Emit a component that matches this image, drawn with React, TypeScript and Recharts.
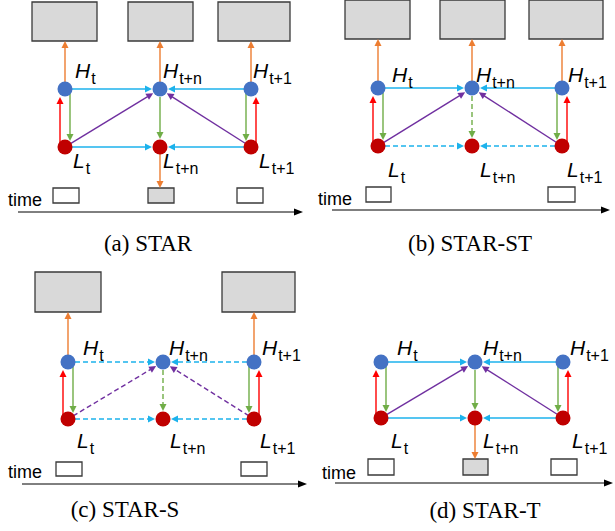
import { ScatterChart, Scatter, XAxis, YAxis, ReferenceLine, ReferenceArea } from "recharts";

const W = 615;
const H = 531;

// four panels: (a) STAR, (b) STAR-ST, (c) STAR-S, (d) STAR-T
const captions = ["(a) STAR", "(b) STAR-ST", "(c) STAR-S", "(d) STAR-T"];
const captionPos = [[148, 251], [470, 251], [125, 517], [485, 518]];
const subs = ["t", "t+n", "t+1"];

// node columns t, t+n, t+1 and the H / L rows
const nodeX = [[65, 160, 251], [378, 472, 562], [68, 163, 254], [381, 475, 563]];
const hY = [89, 88, 362, 362];
const lY = [147, 146, 419, 418];

// label anchors
const hLabelX = [[75, 163, 253], [392, 476, 568], [83, 169, 262], [397, 483, 570]];
const hLabelY = [78, 82, 355, 355];
const lLabelX = [[73, 163, 259], [388, 480, 567], [77, 170, 260], [391, 483, 572]];
const lLabelY = [168, 177, 448, 448];

// output boxes [x1, x2, y1, y2] above the H nodes, input boxes below
const topBoxes = [
  [[32, 97, 2, 41], [128, 193, 2, 41], [218, 290, 2, 41]],
  [[345, 410, 0, 39], [440, 505, 0, 39], [529, 603, 0, 39]],
  [[35, 101, 272, 312], null, [222, 295, 272, 312]],
  [null, null, null],
];
const bottomBoxes = [
  [[53, 79, 188, 203], [148, 174, 188, 203], [237, 263, 188, 203]],
  [[366, 391, 187, 202], null, [548, 575, 187, 202]],
  [[56, 82, 462, 476], null, [241, 267, 462, 476]],
  [[368, 394, 459, 475], [463, 488, 459, 475], [551, 577, 459, 475]],
];

// which edge groups are dashed in each panel
const dashedGroups = [[], ["LL", "mid"], ["HH", "LL", "diag", "mid"], []];

// "time" word and time axis
const timeLabel = [[8, 206], [318, 205], [8, 478], [322, 479]];
const timeAxis = [[18, 303, 212], [332, 610, 210], [22, 307, 484], [335, 613, 483]];

const C = {
  blue: "#4472C4",
  darkRed: "#C00000",
  cyan: "#1CB2EC",
  green: "#70AD47",
  red: "#FF0000",
  orange: "#ED7D31",
  purple: "#7030A0",
  box: "#D9D9D9",
  boxLine: "#3A3A3A",
};

type Pt = [number, number];
type Seg = { a: Pt; b: Pt; color: string; dashed: boolean; head: number; half: number; w: number };

const trim = (a: Pt, b: Pt, r0: number, r1: number): [Pt, Pt] => {
  const dx = b[0] - a[0];
  const dy = b[1] - a[1];
  const len = Math.hypot(dx, dy);
  const ux = dx / len;
  const uy = dy / len;
  return [
    [a[0] + ux * r0, a[1] + uy * r0],
    [b[0] - ux * r1, b[1] - uy * r1],
  ];
};

const segments: Seg[] = [];
captions.forEach((_, p) => {
  const xs = nodeX[p];
  const yh = hY[p];
  const yl = lY[p];
  const dash = (g: string) => dashedGroups[p].includes(g);
  const add = (ab: [Pt, Pt], color: string, dashed = false) =>
    segments.push({ a: ab[0], b: ab[1], color, dashed, head: 7, half: 3.5, w: 1.4 });

  // side pairs: red up, green down
  add([[xs[0] - 5, yl], [xs[0] - 5, yh + 8]], C.red);
  add([[xs[2] + 5, yl], [xs[2] + 5, yh + 8]], C.red);
  add([[xs[0] + 5, yh], [xs[0] + 5, yl - 6]], C.green);
  add([[xs[2] - 5, yh], [xs[2] - 5, yl - 6]], C.green);
  // middle H -> L
  add(trim([xs[1], yh], [xs[1], yl], 8, 8), C.green, dash("mid"));
  // horizontal links into t+n
  add(trim([xs[0], yh], [xs[1], yh], 7, 8), C.cyan, dash("HH"));
  add(trim([xs[2], yh], [xs[1], yh], 7, 8), C.cyan, dash("HH"));
  add(trim([xs[0], yl], [xs[1], yl], 7, 8), C.cyan, dash("LL"));
  add(trim([xs[2], yl], [xs[1], yl], 7, 8), C.cyan, dash("LL"));
  // diagonals L -> H(t+n)
  add(trim([xs[0], yl], [xs[1], yh], 6, 8), C.purple, dash("diag"));
  add(trim([xs[2], yl], [xs[1], yh], 6, 8), C.purple, dash("diag"));
  // outputs
  topBoxes[p].forEach((bx, i) => {
    if (bx) add([[xs[i], yh - 7], [xs[i], bx[3]]], C.orange);
  });
  const mid = bottomBoxes[p][1];
  if (mid) add([[xs[1], yl + 7], [xs[1], mid[2]]], C.orange);
  // time axis
  const t = timeAxis[p];
  segments.push({ a: [t[0], t[2]], b: [t[1], t[2]], color: "#000", dashed: false, head: 9, half: 3.5, w: 1 });
});

const hNodes = captions.flatMap((_, p) => nodeX[p].map((x) => ({ x, y: hY[p] })));
const lNodes = captions.flatMap((_, p) => nodeX[p].map((x) => ({ x, y: lY[p] })));

const boxes = captions.flatMap((_, p) => [
  ...topBoxes[p].filter(Boolean).map((b) => ({ b: b as number[], fill: C.box })),
  ...bottomBoxes[p]
    .map((b, i) => (b ? { b, fill: i === 1 ? C.box : "#fff" } : null))
    .filter(Boolean) as { b: number[]; fill: string }[],
]);

const texts = captions.flatMap((cap, p) => [
  ...subs.map((s, i) => ({ x: hLabelX[p][i], y: hLabelY[p], kind: "var", main: "H", sub: s })),
  ...subs.map((s, i) => ({ x: lLabelX[p][i], y: lLabelY[p], kind: "var", main: "L", sub: s })),
  { x: timeLabel[p][0], y: timeLabel[p][1], kind: "time", main: "time", sub: "" },
  { x: captionPos[p][0], y: captionPos[p][1], kind: "caption", main: cap, sub: "" },
]);

const arrowShape = (s: Seg) => (props: any) => {
  const { x1, y1, x2, y2 } = props;
  const dx = x2 - x1;
  const dy = y2 - y1;
  const len = Math.hypot(dx, dy) || 1;
  const ux = dx / len;
  const uy = dy / len;
  const bx = x2 - ux * s.head;
  const by = y2 - uy * s.head;
  return (
    <g>
      <line
        x1={x1}
        y1={y1}
        x2={bx + ux * 0.5}
        y2={by + uy * 0.5}
        stroke={s.color}
        strokeWidth={s.w}
        strokeDasharray={s.dashed ? "5 3" : undefined}
      />
      <polygon
        points={`${x2},${y2} ${bx - uy * s.half},${by + ux * s.half} ${bx + uy * s.half},${by - ux * s.half}`}
        fill={s.color}
      />
    </g>
  );
};

const nodeShape = (color: string) => (props: any) => (
  <circle cx={props.cx} cy={props.cy} r={7.5} fill={color} />
);

const TextMark = (props: any) => {
  const { cx, cy, payload } = props;
  if (payload.kind === "var") {
    return (
      <text x={cx} y={cy} fontFamily="'Liberation Sans', Arial, sans-serif" fill="#000">
        <tspan fontSize={21} fontStyle="italic">{payload.main}</tspan>
        <tspan fontSize={16} dy={6} dx={1}>{payload.sub}</tspan>
      </text>
    );
  }
  if (payload.kind === "time") {
    return (
      <text x={cx} y={cy} fontFamily="'Liberation Sans', Arial, sans-serif" fontSize={18} fill="#000">
        {payload.main}
      </text>
    );
  }
  return (
    <text x={cx} y={cy} textAnchor="middle" fontFamily="'Liberation Serif', 'Times New Roman', serif" fontSize={23} fill="#000">
      {payload.main}
    </text>
  );
};

export default function App() {
  return (
    <div style={{ position: "absolute", left: 0, top: 0, width: W, height: H, background: "#fff" }}>
      <ScatterChart width={W} height={H} margin={{ top: 0, right: 0, bottom: 0, left: 0 }}>
        <XAxis type="number" dataKey="x" domain={[0, W]} hide allowDataOverflow />
        <YAxis type="number" dataKey="y" domain={[0, H]} reversed hide allowDataOverflow />
        {boxes.map((bx, i) => (
          <ReferenceArea
            key={`box-${i}`}
            x1={bx.b[0]}
            x2={bx.b[1]}
            y1={bx.b[2]}
            y2={bx.b[3]}
            fill={bx.fill}
            fillOpacity={1}
            stroke={C.boxLine}
            strokeWidth={1.3}
          />
        ))}
        {segments.map((s, i) => (
          <ReferenceLine
            key={`seg-${i}`}
            segment={[{ x: s.a[0], y: s.a[1] }, { x: s.b[0], y: s.b[1] }]}
            shape={arrowShape(s)}
          />
        ))}
        <Scatter data={hNodes} shape={nodeShape(C.blue)} isAnimationActive={false} />
        <Scatter data={lNodes} shape={nodeShape(C.darkRed)} isAnimationActive={false} />
        <Scatter data={texts} shape={TextMark} isAnimationActive={false} />
      </ScatterChart>
    </div>
  );
}
